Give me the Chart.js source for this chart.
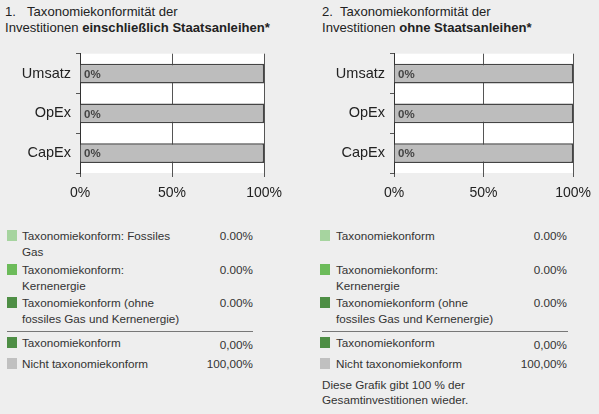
<!DOCTYPE html>
<html>
<head>
<meta charset="utf-8">
<script src="https://cdn.jsdelivr.net/npm/chart.js@4"></script>
<style>
  html, body { margin:0; padding:0; background:#eeeeee; }
  body { width:599px; height:414px; position:relative; overflow:hidden;
         font-family:"Liberation Sans", Arial, sans-serif; color:#333; }
  .abs { position:absolute; white-space:nowrap; }
  .title { font-size:13.1px; line-height:16px; color:#222; }
  .leg { font-size:11.7px; line-height:16px; color:#333; }
  .foot { font-size:11.7px; line-height:15px; color:#333; }
  .sw { position:absolute; width:10px; height:11px; }
  .val { text-align:right; }
  .sep { position:absolute; height:1px; background:#777; }
  .wrap { position:absolute; }
</style>
</head>
<body>
<div class="abs title" style="left:5px;top:4px;">1.</div>
<div class="abs title" style="left:27px;top:4px;">Taxonomiekonformität der</div>
<div class="abs title" style="left:5px;top:20px;">Investitionen <b>einschließlich Staatsanleihen*</b></div>

<div class="abs title" style="left:322px;top:4px;">2.</div>
<div class="abs title" style="left:340px;top:4px;">Taxonomiekonformität der</div>
<div class="abs title" style="left:322px;top:20px;">Investitionen <b>ohne Staatsanleihen*</b></div>

<div class="wrap" style="left:0;top:40px;width:290px;height:175px;"><canvas id="c1"></canvas></div>
<div class="wrap" style="left:300px;top:40px;width:299px;height:175px;"><canvas id="c2"></canvas></div>

<div id="legends"></div>

<div class="abs foot" style="left:322px;top:377px;">Diese Grafik gibt 100 % der<br>Gesamtinvestitionen wieder.</div>

<script>
// ---- data ----
const categories = ['Umsatz', 'OpEx', 'CapEx'];
const xTicks = [0, 50, 100];

const chart1Fossil     = [0, 0, 0];
const chart1Nuclear    = [0, 0, 0];
const chart1Other      = [0, 0, 0];
const chart1NonAligned = [100, 100, 100];

const chart2Fossil     = [0, 0, 0];
const chart2Nuclear    = [0, 0, 0];
const chart2Other      = [0, 0, 0];
const chart2NonAligned = [100, 100, 100];

const legend1Labels = [
  ['Taxonomiekonform: Fossiles', 'Gas'],
  ['Taxonomiekonform:', 'Kernenergie'],
  ['Taxonomiekonform (ohne', 'fossiles Gas und Kernenergie)'],
  ['Taxonomiekonform'],
  ['Nicht taxonomiekonform']
];
const legend1Values = ['0.00%', '0.00%', '0.00%', '0,00%', '100,00%'];

const legend2Labels = [
  ['Taxonomiekonform'],
  ['Taxonomiekonform:', 'Kernenergie'],
  ['Taxonomiekonform (ohne', 'fossiles Gas und Kernenergie)'],
  ['Taxonomiekonform'],
  ['Nicht taxonomiekonform']
];
const legend2Values = ['0.00%', '0.00%', '0.00%', '0,00%', '100,00%'];

// ---- styles ----
const colFossil = '#a6d49f';
const colNuclear = '#6cbb5a';
const colOther = '#4e8e45';
const colTotal = '#4e8e45';
const colNon = '#c0c0c0';
const barFill = '#bdbdbd';
const barBorder = '#444444';
const FONT = '"Liberation Sans", Arial, sans-serif';

const legendColors = [colFossil, colNuclear, colOther, colTotal, colNon];
const rowTops = [228, 262, 295, 335, 356];

function buildLegend(labels, values, swLeft, textLeft, valRight, sepLeft, sepRight) {
  const root = document.getElementById('legends');
  labels.forEach((lines, i) => {
    const sw = document.createElement('div');
    sw.className = 'sw';
    sw.style.left = swLeft + 'px';
    sw.style.top = (rowTops[i] + 2) + 'px';
    sw.style.background = legendColors[i];
    root.appendChild(sw);
    const t = document.createElement('div');
    t.className = 'abs leg';
    t.style.left = textLeft + 'px';
    t.style.top = rowTops[i] + 'px';
    t.innerHTML = lines.join('<br>');
    root.appendChild(t);
    const v = document.createElement('div');
    v.className = 'abs leg val';
    v.style.right = (599 - valRight) + 'px';
    v.style.top = (rowTops[i] + (i === 3 ? 2 : 0)) + 'px';
    v.textContent = values[i];
    root.appendChild(v);
  });
  const s = document.createElement('div');
  s.className = 'sep';
  s.style.left = sepLeft + 'px';
  s.style.width = (sepRight - sepLeft) + 'px';
  s.style.top = '331px';
  root.appendChild(s);
}
buildLegend(legend1Labels, legend1Values, 7, 22, 253, 7, 253);
buildLegend(legend2Labels, legend2Values, 320, 336, 567, 322, 568);

// ---- plugins ----
const plotBg = {
  id: 'plotBg',
  beforeDraw(chart) {
    const a = chart.chartArea, ctx = chart.ctx;
    ctx.save();
    ctx.fillStyle = '#ffffff';
    ctx.fillRect(a.left, a.top, a.right - a.left, a.bottom - a.top);
    ctx.restore();
  }
};
const barLabels = {
  id: 'barLabels',
  afterDatasetsDraw(chart) {
    const ctx = chart.ctx, a = chart.chartArea;
    const ds = chart.data.datasets;
    const meta = chart.getDatasetMeta(ds.length - 1);
    ctx.save();
    ctx.font = 'bold 11.5px ' + FONT;
    ctx.fillStyle = '#444';
    ctx.textBaseline = 'middle';
    ctx.textAlign = 'left';
    meta.data.forEach((bar, i) => {
      let sum = 0;
      for (let d = 0; d < ds.length - 1; d++) sum += ds[d].data[i];
      ctx.fillText(Math.round(sum) + '%', a.left + 4, bar.y + 1);
    });
    ctx.restore();
  }
};

function makeChart(id, fossil, nuclear, other, non, yWidth, padRight) {
  const common = { borderColor: barBorder, borderWidth: { top: 1.5, bottom: 1.5, right: 1.5, left: 0 },
                   borderSkipped: false, barPercentage: 0.5, categoryPercentage: 1 };
  return new Chart(document.getElementById(id), {
    type: 'bar',
    data: {
      labels: categories,
      datasets: [
        Object.assign({ label: 'Fossiles Gas', data: fossil, backgroundColor: colFossil }, common),
        Object.assign({ label: 'Kernenergie', data: nuclear, backgroundColor: colNuclear }, common),
        Object.assign({ label: 'Sonstige', data: other, backgroundColor: colOther }, common),
        Object.assign({ label: 'Nicht taxonomiekonform', data: non, backgroundColor: barFill }, common)
      ]
    },
    options: {
      indexAxis: 'y',
      responsive: true,
      maintainAspectRatio: false,
      animation: false,
      layout: { padding: { top: 10, right: padRight, left: 0, bottom: 0 } },
      plugins: { legend: { display: false }, tooltip: { enabled: false } },
      scales: {
        x: {
          stacked: true, min: 0, max: 100,
          afterBuildTicks: s => { s.ticks = xTicks.map(v => ({ value: v })); },
          afterFit: s => { s.height = 42; },
          ticks: { callback: v => v + '%', font: { family: FONT, size: 14 }, color: '#222', padding: 8, maxRotation: 0 },
          grid: { color: '#555', lineWidth: 1, tickLength: 4, drawTicks: true },
          border: { display: false }
        },
        y: {
          stacked: true,
          afterFit: s => { s.width = yWidth; },
          ticks: { font: { family: FONT, size: 14.5 }, color: '#222', padding: 5 },
          grid: { drawOnChartArea: false, offset: true, tickLength: 4, color: '#555' },
          border: { display: true, color: '#333' }
        }
      }
    },
    plugins: [plotBg, barLabels]
  });
}

makeChart('c1', chart1Fossil, chart1Nuclear, chart1Other, chart1NonAligned, 80, 25);
makeChart('c2', chart2Fossil, chart2Nuclear, chart2Other, chart2NonAligned, 94, 21);
</script>
</body>
</html>
